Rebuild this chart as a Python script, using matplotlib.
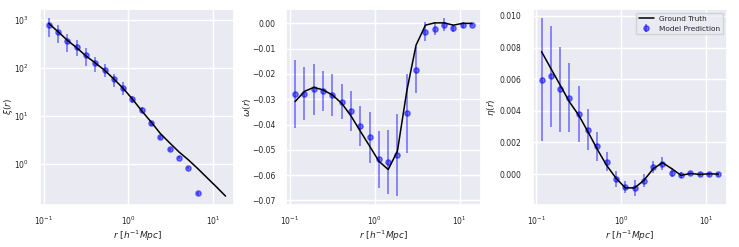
import numpy as np
import matplotlib.pyplot as plt
import seaborn as sns

# radial bins (h^-1 Mpc)
r = [0.115, 0.148, 0.191, 0.245, 0.316, 0.407, 0.524, 0.674, 0.868, 1.118,
     1.44, 1.85, 2.39, 3.07, 3.96, 5.09, 6.56, 8.44, 10.87, 14.0]

# xi(r)
xi_true = [830, 560, 370, 260, 175, 125, 88, 58, 37, 22,
           12.5, 7.4, 4.2, 2.7, 1.74, 1.2, 0.79, 0.51, 0.33, 0.21]
xi_pred = [760, 545, 355, 275, 180, 125, 91, 57, 38, 22,
           13.3, 7.0, 3.5, 2.0, 1.33, 0.81, 0.24]
xi_err = [330, 220, 140, 100, 70, 45, 28, 17, 11, 4,
          2, 0.8, 0.3, 0.15, 0.1, 0.05, 0.02]

# omega(r)
om_true = [-0.0309, -0.0269, -0.0253, -0.0263, -0.0283, -0.0316, -0.0366, -0.0426,
           -0.0485, -0.0545, -0.0578, -0.0505, -0.0266, -0.0086, -0.0007, 0.0002,
           0.0002, -0.0007, 0.0, 0.0]
om_pred = [-0.0279, -0.0278, -0.0261, -0.0267, -0.0283, -0.0309, -0.0347, -0.0406,
           -0.0451, -0.0537, -0.0547, -0.0520, -0.0356, -0.0185, -0.0033, -0.0021,
           -0.0005, -0.0020, -0.0007, -0.0007]
om_err = [0.0133, 0.0104, 0.0100, 0.0078, 0.0082, 0.0070, 0.0080, 0.0080,
          0.0100, 0.0113, 0.0126, 0.0163, 0.0156, 0.0090, 0.0038, 0.0025,
          0.0027, 0.0015, 0.0012, 0.0005]

# eta(r)
eta_true = [0.00774, 0.00668, 0.00562, 0.00457, 0.00372, 0.00266, 0.00156, 0.00055,
            -0.00025, -0.00087, -0.00087, -0.00040, 0.00034, 0.00072, 0.00034,
            -0.00008, 0.00004, -0.00002, 0.00002, 0.0]
eta_pred = [0.00598, 0.00617, 0.00535, 0.00484, 0.00380, 0.00281, 0.00175, 0.00078,
            -0.00030, -0.00082, -0.00089, -0.00042, 0.00044, 0.00066, 0.00010,
            -0.00006, 0.00004, 0.0, 0.0, 0.0]
eta_err = [0.0039, 0.0032, 0.0027, 0.0022, 0.0018, 0.0013, 0.0009, 0.0006,
           0.0005, 0.0004, 0.0005, 0.0004, 0.0004, 0.0004, 0.0003, 0.0002,
           0.0001, 0.0001, 0.0001, 0.0001]

sns.set_theme(style="darkgrid")
plt.rcParams['font.family'] = ['DejaVu Sans']
plt.rcParams['mathtext.fontset'] = 'dejavusans'

fig, axes = plt.subplots(1, 3, figsize=(7.39, 2.47), dpi=100)
fig.subplots_adjust(left=0.054, right=0.984, bottom=0.17, top=0.964, wspace=0.267)

panels = [
    (xi_true, xi_pred, xi_err, r"$\xi(r)$", -0.13),
    (om_true, om_pred, om_err, r"$\omega(r)$", -0.17),
    (eta_true, eta_pred, eta_err, r"$\eta(r)$", -0.18),
]

for ax, (truth, pred, err, ylab, ypos) in zip(axes, panels):
    ax.plot(r, truth, color="black", lw=1.1, label="Ground Truth", zorder=3)
    n = len(pred)
    ax.errorbar(r[:n], pred, yerr=err, fmt="o", color="blue", alpha=0.5,
                markersize=3.8, elinewidth=1.2, label="Model Prediction")
    ax.set_xscale("log")
    ax.set_xlabel(r"$r\ [h^{-1}Mpc]$", fontsize=6.5)
    ax.set_ylabel(ylab, fontsize=6.5)
    ax.xaxis.set_label_coords(0.5, -0.12)
    ax.yaxis.set_label_coords(ypos, 0.5)
    ax.tick_params(axis="y", labelsize=5.5, pad=2)
    ax.tick_params(axis="x", labelsize=5.5, pad=1)
    ax.minorticks_off()

axes[0].set_yscale("log")
axes[0].minorticks_off()
axes[2].legend(loc="upper right", fontsize=5.3, facecolor="#eaeaf2", frameon=True)

plt.savefig("out.png", dpi=100)
